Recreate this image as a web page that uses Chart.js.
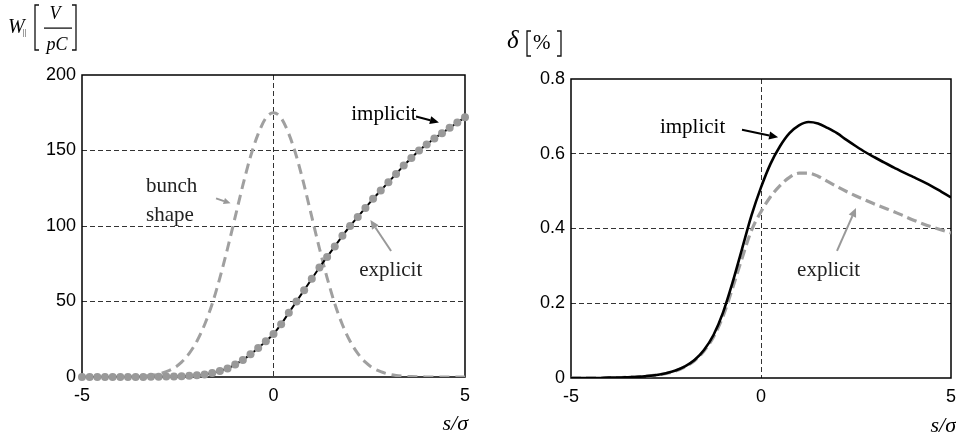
<!DOCTYPE html>
<html><head><meta charset="utf-8">
<script src="https://cdn.jsdelivr.net/npm/chart.js@4"></script>
<style>
html,body{margin:0;padding:0;background:#fff;overflow:hidden;}
#wrap{position:relative;width:956px;height:437px;overflow:hidden;}
canvas{position:absolute;top:0;}
</style>
</head><body>
<div id="wrap">
<canvas id="c1" width="478" height="437" style="left:0;width:478px;height:437px"></canvas>
<canvas id="c2" width="490" height="437" style="left:478px;width:490px;height:437px"></canvas>
</div>
<script>
// ---------- data ----------
const xLeft = [-5,-4.8,-4.6,-4.4,-4.2,-4,-3.8,-3.6,-3.4,-3.2,-3,-2.8,-2.6,-2.4,-2.2,-2,-1.8,-1.6,-1.4,-1.2,-1,-0.8,-0.6,-0.4,-0.2,0,0.2,0.4,0.6,0.8,1,1.2,1.4,1.6,1.8,2,2.2,2.4,2.6,2.8,3,3.2,3.4,3.6,3.8,4,4.2,4.4,4.6,4.8,5];
const wakeImplicit = [0,0,0,0,0,0,0,0.05,0.08,0.12,0.18,0.25,0.35,0.5,0.75,1.1,1.7,2.6,3.9,5.7,8.2,11.3,15,19.2,23.6,28.5,35,42.5,50,57.5,65,72.5,79.5,86.5,93.5,100,106,112,118,123.5,129,134.5,140,145,150,154,158,161.5,165,168.5,172];
const wakeExplicit = [0,0,0,0,0,0,0,0.05,0.08,0.12,0.18,0.25,0.35,0.5,0.75,1.1,1.7,2.6,3.9,5.7,8.2,11.3,15,19.2,23.6,28.5,35,42.5,50,57.5,65,72.5,79.5,86.5,93.5,100,106,112,118,123.5,129,134.5,140,145,150,154,158,161.5,165,168.5,172];
const bunchShape = [0,0,0,0,0,0.06,0.13,0.27,0.54,1.04,1.94,3.5,5.9,9.8,15.6,23.7,34.6,48.5,65.7,85.1,106,127,146,161,171.5,175,171.5,161,146,127,106,85.1,65.7,48.5,34.6,23.7,15.6,9.8,5.9,3.5,1.94,1.04,0.54,0.27,0.13,0.06,0,0,0,0,0];

const xRight = [-5,-4.75,-4.5,-4.25,-4,-3.75,-3.5,-3.25,-3,-2.75,-2.5,-2.25,-2,-1.75,-1.5,-1.25,-1,-0.75,-0.5,-0.25,0,0.25,0.5,0.75,1,1.25,1.5,1.75,2,2.25,2.5,2.75,3,3.25,3.5,3.75,4,4.25,4.5,4.75,5];
const deltaImplicit = [0,0,0,0,0.001,0.001,0.002,0.003,0.005,0.008,0.013,0.02,0.031,0.048,0.075,0.115,0.175,0.255,0.345,0.435,0.51,0.573,0.62,0.655,0.676,0.685,0.681,0.669,0.655,0.637,0.62,0.604,0.59,0.576,0.563,0.55,0.538,0.526,0.513,0.498,0.483];
const deltaExplicit = [0,0,0,0,0.001,0.001,0.002,0.003,0.005,0.008,0.012,0.019,0.03,0.046,0.072,0.11,0.165,0.24,0.32,0.395,0.445,0.485,0.515,0.537,0.548,0.548,0.54,0.526,0.512,0.499,0.487,0.476,0.465,0.455,0.445,0.434,0.423,0.413,0.404,0.396,0.388];

const xTicks = [-5, 0, 5];
const yTicksLeft = [0, 50, 100, 150, 200];
const yTicksRight = [0, 0.2, 0.4, 0.6, 0.8];

// ---------- helpers ----------
const pts = (xs, ys) => xs.map((x, i) => ({x, y: ys[i]}));
const GRAY = '#999999';
const TICKFONT = {family: "'Liberation Sans', Arial, sans-serif", size: 18};

function gridColor(min, max) {
  return (c) => (c.tick && (c.tick.value === min || c.tick.value === max)) ? 'rgba(0,0,0,0)' : '#333';
}

function arrow(ctx, x1, y1, x2, y2, color, lw, head) {
  ctx.save();
  ctx.strokeStyle = color; ctx.fillStyle = color; ctx.lineWidth = lw;
  const a = Math.atan2(y2 - y1, x2 - x1);
  const bx = x2 - head * Math.cos(a), by = y2 - head * Math.sin(a);
  ctx.beginPath(); ctx.moveTo(x1, y1); ctx.lineTo(bx, by); ctx.stroke();
  ctx.beginPath();
  ctx.moveTo(x2, y2);
  ctx.lineTo(bx + head * 0.45 * Math.sin(a), by - head * 0.45 * Math.cos(a));
  ctx.lineTo(bx - head * 0.45 * Math.sin(a), by + head * 0.45 * Math.cos(a));
  ctx.closePath(); ctx.fill();
  ctx.restore();
}

function bracket(ctx, x, y1, y2, dir) {
  ctx.save();
  ctx.strokeStyle = '#111'; ctx.lineWidth = 1.3;
  ctx.beginPath();
  ctx.moveTo(x + dir * 4, y1); ctx.lineTo(x, y1); ctx.lineTo(x, y2); ctx.lineTo(x + dir * 4, y2);
  ctx.stroke();
  ctx.restore();
}

const framePlugin = {
  id: 'frame',
  beforeDatasetsDraw(chart) {
    const a = chart.chartArea, ctx = chart.ctx;
    ctx.save();
    ctx.strokeStyle = '#000'; ctx.lineWidth = 1.5;
    ctx.strokeRect(a.left, a.top, a.right - a.left, a.bottom - a.top);
    ctx.restore();
  }
};

function texts(list) {
  return {
    id: 'annot',
    afterDraw(chart) {
      const ctx = chart.ctx, xs = chart.scales.x, ys = chart.scales.y;
      ctx.save();
      list(ctx, (x) => xs.getPixelForValue(x), (y) => ys.getPixelForValue(y), chart);
      ctx.restore();
    }
  };
}

const SERIF = "'Liberation Serif', 'Times New Roman', serif";

function baseOptions(yMin, yMax, yStep, yWidth, xHeight, pad) {
  return {
    responsive: false, animation: false,
    layout: {padding: pad},
    plugins: {legend: {display: false}, tooltip: {enabled: false}},
    scales: {
      x: {
        type: 'linear', min: -5, max: 5,
        afterBuildTicks: (s) => { s.ticks = xTicks.map(v => ({value: v})); },
        ticks: {font: TICKFONT, color: '#000', padding: 8, maxRotation: 0, callback: v => String(v)},
        grid: {color: gridColor(-5, 5), lineWidth: 1, drawTicks: false},
        border: {display: false, dash: [5, 3]},
        afterFit: (s) => { s.height = xHeight; }
      },
      y: {
        min: yMin, max: yMax,
        ticks: {font: TICKFONT, color: '#000', padding: 6, stepSize: yStep, callback: v => String(+v.toFixed(1))},
        grid: {color: gridColor(yMin, yMax), lineWidth: 1, drawTicks: false},
        border: {display: false, dash: [5, 3]},
        afterFit: (s) => { s.width = yWidth; }
      }
    }
  };
}

// ---------- left chart ----------
const opt1 = baseOptions(0, 200, 50, 82, 60, {top: 75, right: 12, left: 0, bottom: 0});
opt1.scales.y.afterBuildTicks = (s) => { s.ticks = yTicksLeft.map(v => ({value: v})); };
new Chart(document.getElementById('c1'), {
  type: 'line',
  data: {
    datasets: [
      {label: 'bunch shape', data: pts(xLeft, bunchShape), borderColor: '#a0a0a0', borderWidth: 3,
       borderDash: [10, 6], pointRadius: 0, tension: 0.4, cubicInterpolationMode: 'monotone', order: 3},
      {label: 'implicit', data: pts(xLeft, wakeImplicit), borderColor: '#000', borderWidth: 2,
       pointRadius: 0, tension: 0.4, cubicInterpolationMode: 'monotone', order: 2},
      {label: 'explicit', data: pts(xLeft, wakeExplicit), showLine: false, pointRadius: 4,
       pointBackgroundColor: GRAY, pointBorderColor: GRAY, pointBorderWidth: 0, clip: false, order: 1}
    ]
  },
  options: opt1,
  plugins: [framePlugin, texts((ctx, X, Y) => {
    ctx.fillStyle = '#000';
    ctx.font = "21px " + SERIF;
    ctx.textBaseline = 'alphabetic';
    ctx.fillText('implicit', X(2.03), Y(170));
    arrow(ctx, X(3.72), Y(172.5), X(4.32), Y(168.6), '#000', 2, 9);
    ctx.fillStyle = '#222';
    ctx.fillText('bunch', X(-3.33), Y(122.5));
    ctx.fillText('shape', X(-3.33), Y(103.3));
    arrow(ctx, X(-1.5), Y(118.3), X(-1.12), Y(115), GRAY, 2, 7);
    ctx.fillText('explicit', X(2.24), Y(66.9));
    arrow(ctx, X(3.07), Y(83.4), X(2.53), Y(104), GRAY, 2, 9);
    // x axis title
    ctx.fillStyle = '#000';
    ctx.font = "italic 22px " + SERIF;
    ctx.textAlign = 'right';
    ctx.fillText('s/σ', 468, 430);
    // y axis title  W|| [V/pC]
    ctx.textAlign = 'left';
    ctx.font = "italic 20px " + SERIF;
    ctx.fillText('W', 8, 33);
    ctx.font = "8px " + SERIF;
    ctx.fillText('||', 23, 35);
    bracket(ctx, 35, 5, 50, 1);
    ctx.font = "italic 18px " + SERIF;
    ctx.textAlign = 'center';
    ctx.fillText('V', 55, 19);
    ctx.fillText('pC', 57, 50);
    ctx.fillRect(44, 27.5, 28, 1.2);
    bracket(ctx, 76, 5, 50, -1);
  })]
});

// ---------- right chart ----------
const opt2 = baseOptions(0, 0.8, 0.2, 93, 59, {top: 79, right: 17, left: 0, bottom: 0});
opt2.scales.y.afterBuildTicks = (s) => { s.ticks = yTicksRight.map(v => ({value: v})); };
new Chart(document.getElementById('c2'), {
  type: 'line',
  data: {
    datasets: [
      {label: 'explicit', data: pts(xRight, deltaExplicit), borderColor: '#a0a0a0', borderWidth: 3.2,
       borderDash: [10, 5], pointRadius: 0, tension: 0.4, cubicInterpolationMode: 'monotone', order: 2},
      {label: 'implicit', data: pts(xRight, deltaImplicit), borderColor: '#000', borderWidth: 2.6,
       pointRadius: 0, tension: 0.4, cubicInterpolationMode: 'monotone', order: 1}
    ]
  },
  options: opt2,
  plugins: [framePlugin, texts((ctx, X, Y) => {
    ctx.fillStyle = '#000';
    ctx.font = "21px " + SERIF;
    ctx.fillText('implicit', X(-2.66), Y(0.655));
    arrow(ctx, X(-0.5), Y(0.664), X(0.45), Y(0.644), '#000', 2, 9);
    ctx.fillStyle = '#222';
    ctx.fillText('explicit', X(0.95), Y(0.273));
    arrow(ctx, X(2.0), Y(0.34), X(2.5), Y(0.455), GRAY, 2, 9);
    ctx.fillStyle = '#000';
    ctx.font = "italic 22px " + SERIF;
    ctx.textAlign = 'right';
    ctx.fillText('s/σ', 478, 432);
    // y title δ[%]
    ctx.textAlign = 'left';
    ctx.font = "italic 25px " + SERIF;
    ctx.fillText('δ', 29, 48);
    bracket(ctx, 49, 31, 56, 1);
    ctx.font = "21px " + SERIF;
    ctx.fillText('%', 55, 49);
    bracket(ctx, 83, 31, 56, -1);
  })]
});
</script>
</body></html>
